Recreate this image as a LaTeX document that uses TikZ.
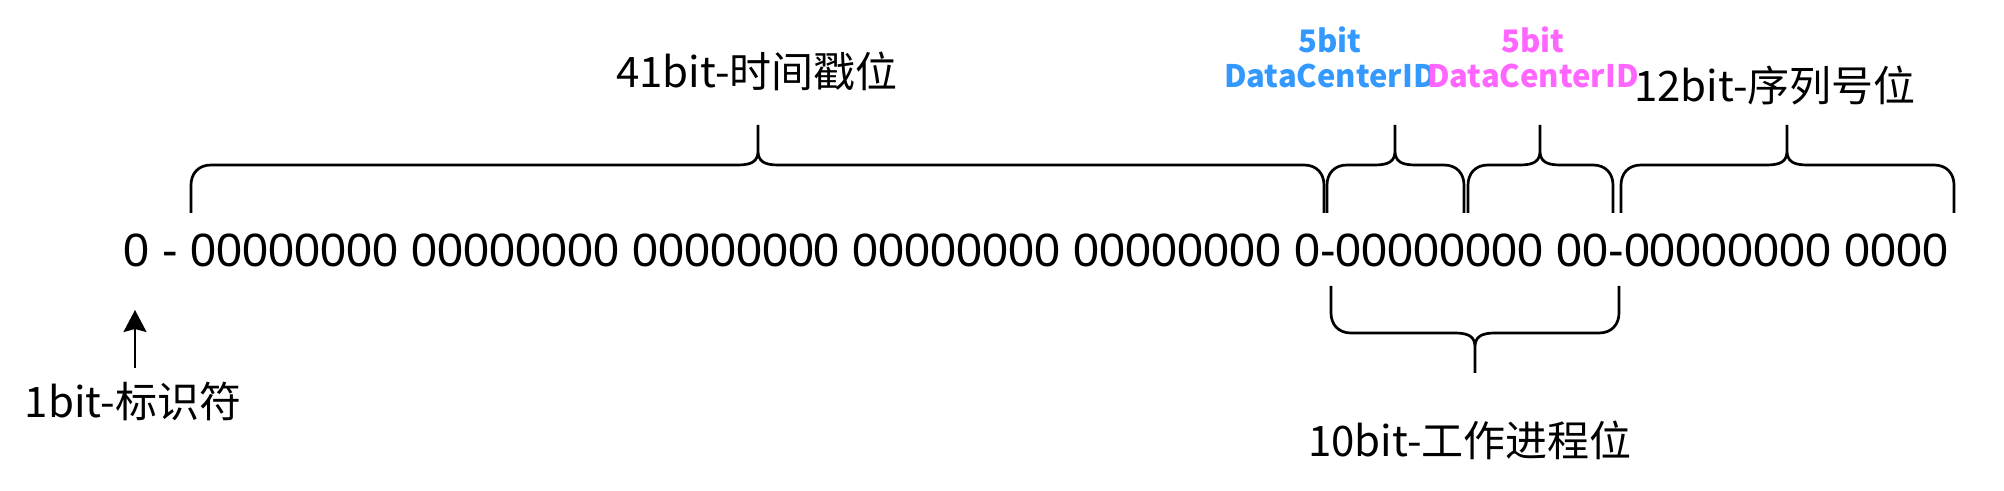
\documentclass[tikz,border=0pt]{standalone}
\usepackage{fontspec}
\setmainfont{Liberation Sans}
\newfontfamily\cjk{Noto Sans CJK SC}
\usetikzlibrary{arrows.meta}
\definecolor{dcblue}{RGB}{51,153,255}
\definecolor{dcpink}{RGB}{255,102,255}

\begin{document}
\begin{tikzpicture}[x=0.5pt,y=0.5pt,yscale=-1,xscale=1,
    brace/.style={line width=1.35pt},
    bitlabel/.style={anchor=base,inner sep=0pt,font=\cjk\fontsize{21}{25}\selectfont},
    idlabel/.style={anchor=south,inner sep=0pt,align=center,font=\cjk\bfseries\fontsize{15.5}{17.5}\selectfont}]
\useasboundingbox (0,0) rectangle (2004,491);

% Text Node: bit string
\node (bits) [anchor=base west,inner sep=0pt,font=\fontsize{23.35}{28}\selectfont] at (123,267) {0 - 00000000 00000000 00000000 00000000 00000000 0-00000000 00-00000000 0000};

%Shape: Brace 41bit
\draw [brace] (191,213) -- (191,185) .. controls (191,174) and (198,165) .. (211,165) -- (738,165) .. controls (752,165) and (758,161) .. (758,151) -- (758,125) (758,151) .. controls (758,161) and (764,165) .. (778,165) -- (1304,165) .. controls (1317,165) and (1324,174) .. (1324,185) -- (1324,213) ;
%Shape: Brace 5bit (1)
\draw [brace] (1327,213) -- (1327,185) .. controls (1327,174) and (1334,165) .. (1347,165) -- (1375,165) .. controls (1389,165) and (1395,161) .. (1395,151) -- (1395,125) (1395,151) .. controls (1395,161) and (1401,165) .. (1415,165) -- (1444,165) .. controls (1457,165) and (1464,174) .. (1464,185) -- (1464,213) ;
%Shape: Brace 5bit (2)
\draw [brace] (1468,213) -- (1468,185) .. controls (1468,174) and (1475,165) .. (1488,165) -- (1520,165) .. controls (1534,165) and (1540,161) .. (1540,151) -- (1540,125) (1540,151) .. controls (1540,161) and (1546,165) .. (1560,165) -- (1593,165) .. controls (1606,165) and (1613,174) .. (1613,185) -- (1613,213) ;
%Shape: Brace 12bit
\draw [brace] (1621,213) -- (1621,185) .. controls (1621,174) and (1628,165) .. (1641,165) -- (1767,165) .. controls (1781,165) and (1787,161) .. (1787,151) -- (1787,125) (1787,151) .. controls (1787,161) and (1793,165) .. (1807,165) -- (1934,165) .. controls (1947,165) and (1954,174) .. (1954,185) -- (1954,213) ;
%Shape: Brace 10bit (below)
\draw [brace] (1331,286) -- (1331,313) .. controls (1331,324) and (1338,333) .. (1351,333) -- (1455,333) .. controls (1469,333) and (1475,337) .. (1475,347) -- (1475,373) (1475,347) .. controls (1475,337) and (1481,333) .. (1495,333) -- (1599,333) .. controls (1612,333) and (1619,324) .. (1619,313) -- (1619,286) ;

% Text Node
\node (stamp) [bitlabel] at (757,88) {41bit-时间戳位};
% Text Node
\node (seqno) [bitlabel] at (1775,102) {12bit-序列号位};
% Text Node
\node (sign) [bitlabel] at (133,418) {1bit-标识符};
% Text Node
\node (worker) [bitlabel] at (1470,457) {10bit-工作进程位};
% Text Node
\node (dcid) [idlabel,text=dcblue] at (1330,88) {5bit\\DataCenterID};
% Text Node
\node (dcidb) [idlabel,text=dcpink] at (1533,88) {5bit\\DataCenterID};

%Straight Lines: arrow to sign bit
\coordinate (signbit) at (135,310);
\draw [line width=1pt,-{Stealth[length=11pt,width=11.5pt,inset=1.5pt]},shorten <=7pt] (sign.north -| signbit) -- (signbit) ;

\end{tikzpicture}
\end{document}
